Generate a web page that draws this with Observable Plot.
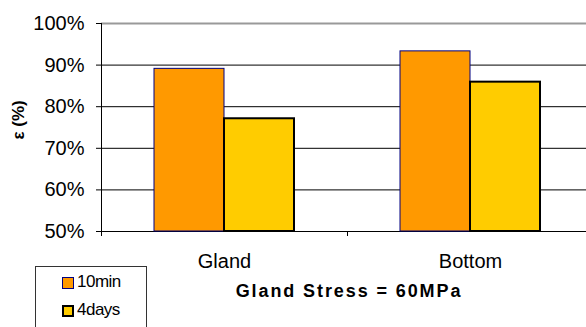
<!DOCTYPE html>
<html>
<head>
<meta charset="utf-8">
<script src="https://cdn.jsdelivr.net/npm/d3@7"></script>
<script src="https://cdn.jsdelivr.net/npm/@observablehq/plot@0.6"></script>
<style>
  body { margin: 0; background: #fff; }
  #wrap { position: relative; width: 586px; height: 327px; overflow: hidden; background: #fff;
          font-family: "Liberation Sans", Arial, sans-serif; }
  #wrap svg { position: absolute; left: 0; top: 0; max-width: none !important; width: 593px; height: 327px; }
  .title { position: absolute; left: 0; width: 698px; top: 282px; text-align: center;
           font-size: 18px; line-height: 18px; font-weight: bold; letter-spacing: 1.9px; color: #000; white-space: nowrap; }
  .legend { position: absolute; left: 35px; top: 266px; width: 110px; height: 80px;
            border: 1px solid #333; background: #fff; }
  .item { position: absolute; left: 26px; height: 17px; }
  .sw { position: absolute; left: 0; width: 12px; height: 12px; box-sizing: border-box; }
  .lab { position: absolute; left: 15px; top: 0; font-size: 17px; line-height: 17px; letter-spacing: -0.5px; white-space: nowrap; }
</style>
</head>
<body>
<div id="wrap"></div>
<script>
// ---- data ----
const categories = ["Gland", "Bottom"];
const series = ["10min", "4days"];
const values10min = [0.891, 0.933];
const values4days = [0.771, 0.859];
const yTicks = [0.5, 0.6, 0.7, 0.8, 0.9, 1.0];
const yMin = 0.5;
const yMax = 1.0;
const yLabel = "ε (%)";
const xTitle = "Gland Stress = 60MPa";
const seriesColors = ["#FF9900", "#FFCC00"];
const seriesStrokes = ["#000080", "#000000"];

const data = categories.flatMap((c, i) => [
  {cat: c, series: series[0], value: values10min[i]},
  {cat: c, series: series[1], value: values4days[i]}
]);

const plot = Plot.plot({
  width: 593,
  height: 327,
  marginLeft: 101,
  marginRight: 0,
  marginTop: 23,
  marginBottom: 96,
  style: {fontSize: "20px", fontFamily: "'Liberation Sans', Arial, sans-serif", color: "#000", background: "#fff", overflow: "visible"},
  fx: {domain: categories, padding: 0, label: null},
  x: {domain: series, paddingInner: 0, paddingOuter: 0.757, axis: null},
  y: {domain: [yMin, yMax], ticks: yTicks, tickFormat: d3.format(".0%"), tickSize: 5, tickPadding: 12, label: null},
  color: {domain: series, range: seriesColors},
  marks: [
    Plot.ruleY(yTicks.filter(t => t < yMax), {stroke: "#000", strokeWidth: 1}),
    Plot.ruleY([yMax], {stroke: "#999", strokeWidth: 2}),
    Plot.barY(data.filter(d => d.series === series[0]), {
      fx: "cat", x: "series", y1: yMin, y2: "value", fill: seriesColors[0],
      stroke: seriesStrokes[0], strokeWidth: 1, inset: 0
    }),
    Plot.barY(data.filter(d => d.series === series[1]), {
      fx: "cat", x: "series", y1: yMin, y2: "value", fill: seriesColors[1],
      stroke: seriesStrokes[1], strokeWidth: 2, inset: 0
    }),
    Plot.frame({anchor: "left", facet: "super", stroke: "#000"}),
    Plot.axisFx({anchor: "bottom", tickSize: 0, tickPadding: 22, label: null, fontSize: 20}),
    Plot.axisFx({anchor: "bottom", tickSize: 5, tickFormat: () => "", label: null, dx: -123}),
    Plot.text([yLabel], {facet: "super", frameAnchor: "left", dx: -83, dy: 12, rotate: -90, fontWeight: "bold", fontSize: 17, fill: "#000"})
  ]
});

const wrap = document.getElementById("wrap");
wrap.appendChild(plot);

const title = document.createElement("div");
title.className = "title";
title.textContent = xTitle;
wrap.appendChild(title);

const legend = document.createElement("div");
legend.className = "legend";
const itemTops = [6, 34];
series.forEach((s, i) => {
  const item = document.createElement("div");
  item.className = "item";
  item.style.top = itemTops[i] + "px";
  const sw = document.createElement("div");
  sw.className = "sw";
  sw.style.top = "4px";
  sw.style.background = seriesColors[i];
  sw.style.border = (i === 0 ? "1px solid " : "2px solid ") + seriesStrokes[i];
  const lab = document.createElement("span");
  lab.className = "lab";
  lab.textContent = s;
  item.appendChild(sw);
  item.appendChild(lab);
  legend.appendChild(item);
});
wrap.appendChild(legend);
</script>
</body>
</html>
